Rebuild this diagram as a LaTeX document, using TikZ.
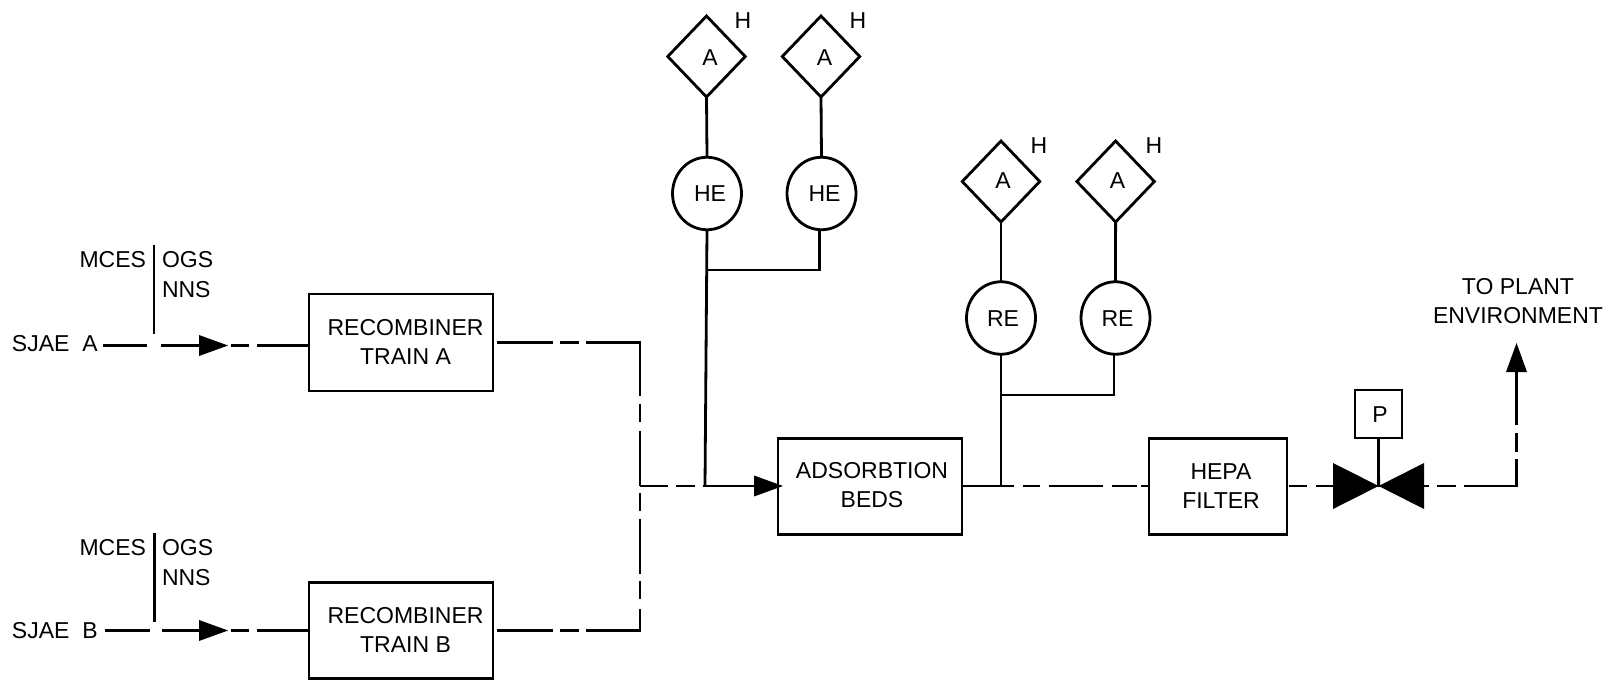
\documentclass[tikz,border=0pt]{standalone}
\usepackage{fontspec}
\setmainfont{Liberation Sans}
\usetikzlibrary{shapes.geometric,arrows.meta,calc}
\tikzset{
  lbl/.style={inner sep=0pt,outer sep=0pt,align=center,yshift=-1.3pt,font=\fontsize{23}{28.7}\selectfont},
  boxnode/.style={draw,rectangle,inner sep=0pt,outer sep=0pt,minimum width=#1},
  boxnode/.default=184pt,
  instr/.style={draw,ellipse,inner sep=0pt,outer sep=0pt,minimum width=69pt,minimum height=72.5pt},
  alarm/.style={draw,diamond,aspect=1,inner sep=0pt,outer sep=0pt,minimum width=77.5pt,minimum height=81pt},
  bigtip/.style={-{Triangle[length=29pt,width=21pt,line width=0pt]}},
  pipe/.style={line join=miter},
}
\begin{document}
\begin{tikzpicture}[x=1pt,y=-1pt,line width=2.8pt]
\useasboundingbox (0,0) rectangle (1611,680);

% boxes
\node[boxnode,minimum height=97pt] (ra) at (401,342.5) {};
\node[boxnode,minimum height=96pt] (rb) at (401,630.5) {};
\node[boxnode,minimum height=96pt] (ad) at (870,486.5) {};
\node[boxnode=138pt,minimum height=96pt] (hf) at (1218,486.5) {};
\node[boxnode=47pt,minimum height=48pt] (pb) at (1378.5,414) {};
\node[lbl] (ral) at ($(ra)+(4.5,-1.5)$) {RECOMBINER\\TRAIN A};
\node[lbl] (rbl) at ($(rb)+(4.5,-2)$) {RECOMBINER\\TRAIN B};
\node[lbl] (adl) at ($(ad)+(2,-2.5)$) {ADSORBTION\\BEDS};
\node[lbl] (hfl) at ($(hf)+(3,-2)$) {HEPA\\FILTER};
\node[lbl] (pl) at ($(pb)+(1.5,-1)$) {P};

% instruments
\node[instr] (he1) at (707,193.5) {};
\node[instr] (he2) at (821.5,193.5) {};
\node[instr] (re1) at (1001,318) {};
\node[instr] (re2) at (1115.5,318) {};
\node[lbl] (he1l) at ($(he1)+(3,-1.5)$) {HE};
\node[lbl] (he2l) at ($(he2)+(3,-1.5)$) {HE};
\node[lbl] (re1l) at ($(re1)+(2,-1)$) {RE};
\node[lbl] (re2l) at ($(re2)+(2,-1)$) {RE};

% alarms
\node[alarm] (a1) at (706.5,56.5) {};
\node[alarm] (a2) at (821,56.5) {};
\node[alarm] (a3) at (1001,181.5) {};
\node[alarm] (a4) at (1115.6,181.5) {};
\node[lbl] (a1l) at ($(a1)+(3.5,-0.5)$) {A};
\node[lbl] (a2l) at ($(a2)+(3.5,-0.5)$) {A};
\node[lbl] (a3l) at ($(a3)+(2,-2)$) {A};
\node[lbl] (a4l) at ($(a4)+(2,-2)$) {A};
\node[lbl] (h1) at (743,19) {H};
\node[lbl] (h2) at (858,19) {H};
\node[lbl] (h3) at (1039,144) {H};
\node[lbl] (h4) at (1154,144) {H};

% texts
\node[lbl,anchor=west] (sa) at (12,342) {SJAE\ \ A};
\node[lbl,anchor=west] (sb) at (12,629.5) {SJAE\ \ B};
\node[lbl,anchor=east] (m1) at (146,258.5) {MCES};
\node[lbl,anchor=west] (o1) at (162,258.5) {OGS};
\node[lbl,anchor=west] (n1) at (162,288) {NNS};
\node[lbl,anchor=east] (m2) at (146,546) {MCES};
\node[lbl,anchor=west] (o2) at (162,546) {OGS};
\node[lbl,anchor=west] (n2) at (162,576) {NNS};
\node[lbl] (env) at (1518,299.5) {TO PLANT\\ENVIRONMENT};

% named points
\coordinate (sas) at (103,345.5);
\coordinate (tipa) at (228,345.5);
\coordinate (sbs) at (105,630.5);
\coordinate (tipb) at (228,630.5);
\coordinate (da1) at (154,245);
\coordinate (da2) at (154,334);
\coordinate (db1) at (154.5,533);
\coordinate (db2) at (154.5,622);
\coordinate (j) at (640,486);
\coordinate (jh) at (705,486);
\coordinate (tipad) at (783,486);
\coordinate (bhe) at (706.6,270);
\coordinate (bhe2) at (819.5,270);
\coordinate (bhe3) at (819.5,229);
\coordinate (jre) at (1001,486);
\coordinate (bre) at (1001,395);
\coordinate (bre2) at (1114,395);
\coordinate (bre3) at (1114,353);
\coordinate (v) at (1378.6,486);
\coordinate (vl1) at (1333,463);
\coordinate (vl2) at (1333,509);
\coordinate (vr1) at (1424,463);
\coordinate (vr2) at (1424,509);
\coordinate (oc) at (1516.5,486);
\coordinate (tipo) at (1516.5,343);

% division lines
\draw (da1) -- (da2);
\draw (db1) -- (db2);

% SJAE inlets
\draw[bigtip,dash pattern=on 44pt off 14pt on 120pt] (sas) -- (tipa);
\draw[dash pattern=on 0pt off 3pt on 18pt off 8pt on 90pt] (tipa) -- (ra.west |- tipa);
\draw[bigtip,dash pattern=on 45pt off 12pt on 120pt] (sbs) -- (tipb);
\draw[dash pattern=on 0pt off 3pt on 18pt off 8pt on 90pt] (tipb) -- (rb.west |- tipb);

% recombiner outlets
\draw[pipe,dash pattern=on 0pt off 4pt on 56pt off 7pt on 19pt off 7pt on 107pt off 8pt on 18pt off 9pt on 70pt]
  (ra.east) -| (j);
\draw[pipe,dash pattern=on 0pt off 4pt on 56pt off 7pt on 19pt off 7pt on 76pt off 10pt on 18pt off 7pt on 55pt off 8pt on 18pt off 6pt on 0pt off 10pt]
  (rb.east) -| (j);

% header to adsorption beds
\draw[bigtip,dash pattern=on 28pt off 8pt on 19pt off 8pt on 200pt] (j) -- (tipad);
\draw (he1.south) -- (jh);
\draw[pipe] (bhe) -- (bhe2) -- (bhe3);

% instruments stems
\draw (a1.south) -- (he1.north);
\draw (a2.south) -- (he2.north);
\draw (a3.south) -- (re1.north);
\draw (a4.south) -- (re2.north);
\draw (re1.south) -- (jre);
\draw[pipe] (bre) -- (bre2) -- (bre3);

% adsorption to filter to valve to outlet
\draw[dash pattern=on 52pt off 9pt on 17pt off 9pt on 54pt off 9pt on 25pt off 4pt on 20pt] (ad.east |- j) -- (hf.west |- j);
\draw[dash pattern=on 0pt off 2pt on 18pt off 9pt on 80pt] (hf.east |- j) -- (v);
\draw[bigtip,pipe,dash pattern=on 50pt off 8pt on 19pt off 8pt on 80pt off 7pt on 19pt off 8pt on 200pt] (v) -- (oc) -- (tipo);
\draw (pb.south) -- (v);
\fill (vl1) -- (v) -- (vl2) -- cycle;
\fill (vr1) -- (v) -- (vr2) -- cycle;
\end{tikzpicture}
\end{document}
